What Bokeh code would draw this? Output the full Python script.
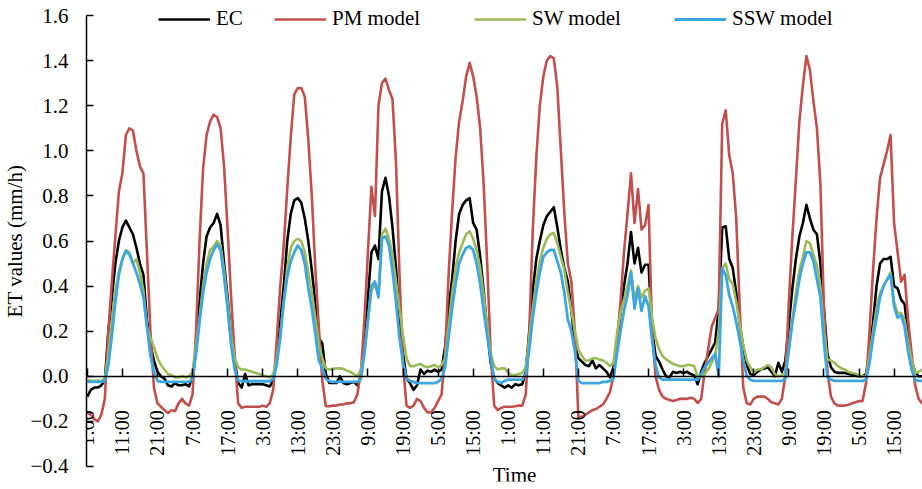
import math
from bokeh.plotting import figure
from bokeh.models import (Range1d, FixedTicker, CustomJSTickFormatter, Legend,
                          LegendItem, Label, LinearAxis)
from bokeh.core.properties import value
from bokeh.embed import file_html
from bokeh.resources import INLINE

# ---------------- data (hourly, 10 days x 24 h) ----------------
ec = [
    -0.09, -0.06, -0.05, -0.05, -0.04, -0.02, 0.2, 0.35, 0.5, 0.6, 0.66, 0.69, 0.66, 0.63, 0.57, 0.5, 0.45, 0.25, 0.14, 0.07, 0.02, 0.0, -0.01, -0.04,
    -0.045, -0.03, -0.04, -0.04, -0.035, -0.045, 0.0, 0.12, 0.33, 0.5, 0.62, 0.66, 0.68, 0.72, 0.67, 0.5, 0.35, 0.18, 0.07, -0.03, -0.05, 0.01, -0.04, -0.035,
    -0.035, -0.035, -0.035, -0.04, -0.045, -0.02, 0.08, 0.24, 0.4, 0.6, 0.72, 0.78, 0.79, 0.77, 0.7, 0.6, 0.47, 0.33, 0.17, 0.145, 0.01, -0.03, -0.03, -0.03,
    0.0, -0.03, -0.035, -0.03, -0.025, -0.04, 0.0, 0.15, 0.35, 0.55, 0.58, 0.52, 0.82, 0.88, 0.8, 0.66, 0.48, 0.27, 0.1, -0.01, -0.03, -0.06, -0.04, 0.03,
    0.01, 0.025, 0.02, 0.03, 0.02, 0.03, 0.13, 0.3, 0.43, 0.6, 0.72, 0.76, 0.78, 0.79, 0.68, 0.65, 0.53, 0.38, 0.2, 0.06, -0.01, -0.03, -0.04, -0.05,
    -0.04, -0.05, -0.035, -0.04, -0.035, 0.02, 0.2, 0.38, 0.52, 0.6, 0.67, 0.71, 0.73, 0.75, 0.66, 0.56, 0.48, 0.42, 0.29, 0.14, 0.08, 0.065, 0.05, 0.045,
    0.07, 0.035, 0.05, 0.035, 0.02, -0.005, 0.04, 0.15, 0.28, 0.4, 0.5, 0.64, 0.5, 0.57, 0.46, 0.495, 0.495, 0.21, 0.09, 0.065, 0.03, 0.0, -0.005, 0.02,
    0.015, 0.02, 0.015, 0.02, 0.01, 0.005, -0.035, 0.02, 0.06, 0.09, 0.12, 0.15, 0.3, 0.66, 0.665, 0.52, 0.48, 0.37, 0.23, 0.13, 0.05, 0.01, 0.005, 0.02,
    0.03, 0.035, 0.04, 0.02, 0.0, 0.06, 0.02, 0.07, 0.23, 0.39, 0.52, 0.62, 0.68, 0.76, 0.7, 0.65, 0.63, 0.5, 0.3, 0.1, 0.04, 0.02, 0.015, 0.015,
    0.015, 0.01, 0.007, 0.003, 0.0, 0.0, 0.01, 0.1, 0.24, 0.4, 0.5, 0.52, 0.52, 0.53, 0.4, 0.39, 0.34, 0.32, 0.18, 0.07, 0.02, 0.0, 0.0, 0.005,
]

pm = [
    -0.16, -0.17, -0.19, -0.2, -0.17, -0.1, 0.2, 0.42, 0.62, 0.82, 0.9, 1.07, 1.1, 1.09, 1.0, 0.93, 0.9, 0.55, 0.2, -0.05, -0.12, -0.135, -0.15, -0.163,
    -0.15, -0.155, -0.12, -0.1, -0.12, -0.13, -0.08, 0.2, 0.6, 0.92, 1.07, 1.13, 1.16, 1.15, 1.1, 0.93, 0.65, 0.35, 0.1, -0.12, -0.14, -0.135, -0.135, -0.135,
    -0.135, -0.135, -0.13, -0.135, -0.12, -0.06, 0.16, 0.4, 0.58, 0.83, 1.06, 1.25, 1.278, 1.278, 1.24, 1.05, 0.8, 0.48, 0.22, -0.02, -0.133, -0.133, -0.13, -0.13,
    -0.125, -0.125, -0.12, -0.12, -0.115, -0.08, 0.02, 0.25, 0.55, 0.84, 0.71, 1.2, 1.3, 1.32, 1.27, 1.23, 0.95, 0.45, 0.05, -0.13, -0.14, -0.13, -0.1, -0.11,
    -0.14, -0.16, -0.16, -0.14, -0.11, -0.08, 0.1, 0.45, 0.73, 0.97, 1.13, 1.22, 1.33, 1.39, 1.33, 1.24, 1.1, 0.85, 0.5, 0.1, -0.13, -0.15, -0.14, -0.135,
    -0.135, -0.135, -0.133, -0.13, -0.13, -0.08, 0.2, 0.65, 0.97, 1.2, 1.33, 1.4, 1.42, 1.41, 1.28, 1.0, 0.72, 0.5, 0.42, 0.2, -0.18, -0.18, -0.17, -0.16,
    -0.15, -0.145, -0.135, -0.125, -0.1, -0.07, 0.0, 0.15, 0.33, 0.55, 0.72, 0.9, 0.68, 0.83, 0.65, 0.67, 0.76, 0.2, 0.0, -0.06, -0.09, -0.1, -0.105, -0.11,
    -0.105, -0.1, -0.1, -0.1, -0.095, -0.1, -0.118, -0.1, 0.02, 0.12, 0.22, 0.26, 0.3, 1.12, 1.18, 0.98, 0.9, 0.7, 0.3, -0.05, -0.12, -0.125, -0.1, -0.09,
    -0.09, -0.09, -0.1, -0.115, -0.12, -0.125, -0.1, 0.0, 0.33, 0.62, 0.87, 1.13, 1.29, 1.42, 1.36, 1.22, 1.1, 0.85, 0.3, 0.02, -0.09, -0.12, -0.13, -0.13,
    -0.13, -0.126, -0.12, -0.115, -0.11, -0.11, -0.03, 0.2, 0.47, 0.7, 0.88, 0.94, 1.0, 1.07, 0.68, 0.55, 0.42, 0.45, 0.25, 0.1, -0.04, -0.1, -0.12, -0.12,
]

sw = [
    -0.015, -0.02, -0.02, -0.02, -0.02, -0.01, 0.1, 0.24, 0.38, 0.46, 0.52, 0.56, 0.55, 0.5, 0.52, 0.46, 0.38, 0.22, 0.17, 0.13, 0.08, 0.05, 0.03, 0.01,
    0.005, -0.005, -0.005, 0.0, -0.005, 0.0, 0.02, 0.14, 0.26, 0.4, 0.5, 0.56, 0.575, 0.6, 0.58, 0.47, 0.33, 0.18, 0.08, 0.04, 0.03, 0.03, 0.025, 0.02,
    0.015, 0.01, 0.005, 0.0, -0.005, 0.01, 0.08, 0.18, 0.33, 0.48, 0.57, 0.6, 0.61, 0.6, 0.55, 0.46, 0.37, 0.26, 0.14, 0.08, 0.035, 0.03, 0.033, 0.035,
    0.035, 0.033, 0.025, 0.02, 0.01, 0.0, 0.03, 0.1, 0.25, 0.38, 0.41, 0.36, 0.63, 0.655, 0.61, 0.54, 0.42, 0.3, 0.18, 0.08, 0.045, 0.045, 0.05, 0.055,
    0.045, 0.04, 0.045, 0.05, 0.04, 0.05, 0.08, 0.22, 0.37, 0.48, 0.55, 0.59, 0.63, 0.643, 0.61, 0.56, 0.48, 0.36, 0.22, 0.1, 0.045, 0.03, 0.035, 0.035,
    0.015, 0.005, 0.005, 0.01, 0.015, 0.04, 0.17, 0.3, 0.42, 0.51, 0.57, 0.61, 0.63, 0.635, 0.59, 0.53, 0.47, 0.37, 0.29, 0.2, 0.12, 0.09, 0.07, 0.07,
    0.08, 0.08, 0.075, 0.07, 0.06, 0.045, 0.06, 0.19, 0.28, 0.34, 0.4, 0.47, 0.34, 0.4, 0.35, 0.38, 0.39, 0.26, 0.17, 0.12, 0.09, 0.075, 0.065, 0.055,
    0.05, 0.045, 0.045, 0.05, 0.05, 0.045, 0.0, -0.005, 0.01, 0.03, 0.06, 0.09, 0.2, 0.48, 0.5, 0.43, 0.41, 0.33, 0.23, 0.14, 0.07, 0.04, 0.015, 0.03,
    0.03, 0.04, 0.05, 0.04, 0.01, 0.0, 0.005, 0.015, 0.12, 0.25, 0.37, 0.47, 0.53, 0.6, 0.59, 0.54, 0.49, 0.4, 0.2, 0.075, 0.07, 0.06, 0.045, 0.035,
    0.03, 0.02, 0.015, 0.012, 0.005, 0.0, 0.0, 0.09, 0.2, 0.3, 0.37, 0.4, 0.43, 0.46, 0.33, 0.28, 0.28, 0.25, 0.15, 0.07, 0.015, 0.02, 0.03, 0.035,
]

ssw = [
    -0.025, -0.025, -0.025, -0.025, -0.025, -0.02, 0.05, 0.18, 0.33, 0.45, 0.52, 0.555, 0.54, 0.5, 0.46, 0.41, 0.35, 0.22, 0.09, 0.02, -0.02, -0.025, -0.025, -0.025,
    -0.025, -0.025, -0.025, -0.025, -0.025, -0.025, -0.01, 0.1, 0.24, 0.37, 0.46, 0.52, 0.56, 0.585, 0.56, 0.44, 0.3, 0.14, 0.03, -0.018, -0.022, -0.022, -0.022, -0.022,
    -0.022, -0.022, -0.022, -0.022, -0.022, -0.01, 0.05, 0.17, 0.33, 0.44, 0.51, 0.55, 0.58, 0.56, 0.5, 0.39, 0.3, 0.19, 0.07, 0.035, -0.01, -0.022, -0.025, -0.025,
    -0.025, -0.025, -0.025, -0.025, -0.025, -0.025, -0.01, 0.1, 0.25, 0.4, 0.42, 0.35, 0.61, 0.62, 0.58, 0.47, 0.33, 0.17, 0.06, -0.01, -0.02, -0.025, -0.03, -0.03,
    -0.03, -0.03, -0.03, -0.03, -0.025, -0.01, 0.04, 0.17, 0.3, 0.41, 0.5, 0.54, 0.57, 0.576, 0.56, 0.5, 0.41, 0.29, 0.18, 0.08, -0.01, -0.025, -0.03, -0.02,
    -0.015, -0.015, -0.015, -0.015, -0.015, 0.01, 0.12, 0.26, 0.37, 0.46, 0.53, 0.55, 0.56, 0.56, 0.51, 0.46, 0.37, 0.25, 0.2, 0.11, -0.02, -0.03, -0.03, -0.03,
    -0.03, -0.03, -0.03, -0.025, -0.025, -0.02, -0.01, 0.1, 0.2, 0.29, 0.36, 0.46, 0.3, 0.39, 0.29, 0.355, 0.31, 0.16, 0.05, -0.005, -0.015, -0.015, -0.015, -0.015,
    -0.015, -0.015, -0.015, -0.015, -0.015, -0.015, -0.015, 0.01, 0.04, 0.06, 0.08, 0.1, 0.0, 0.48, 0.45, 0.36, 0.31, 0.24, 0.16, 0.07, 0.0, -0.015, -0.02, -0.02,
    -0.02, -0.02, -0.02, -0.02, -0.02, -0.02, -0.02, -0.01, 0.12, 0.24, 0.33, 0.43, 0.5, 0.55, 0.55, 0.51, 0.43, 0.35, 0.15, -0.005, -0.015, -0.02, -0.02, -0.02,
    -0.02, -0.02, -0.02, -0.02, -0.02, -0.02, -0.015, 0.06, 0.17, 0.26, 0.35, 0.4, 0.43, 0.45, 0.31, 0.26, 0.27, 0.22, 0.11, 0.03, -0.015, -0.02, -0.02, -0.02,
]

x_tick_labels = ["1:00", "11:00", "21:00", "7:00", "17:00", "3:00", "13:00", "23:00",
                 "9:00", "19:00", "5:00", "15:00", "1:00", "11:00", "21:00", "7:00",
                 "17:00", "3:00", "13:00", "23:00", "9:00", "19:00", "5:00", "15:00"]
y_ticks = [-0.4, -0.2, 0.0, 0.2, 0.4, 0.6, 0.8, 1.0, 1.2, 1.4, 1.6]

series = [("EC", ec, "#000000"), ("PM model", pm, "#C0504D"),
          ("SW model", sw, "#9BBB59"), ("SSW model", ssw, "#3EA6DE")]

FONT = "Liberation Serif"

# ---------------- figure ----------------
# The frame is a little taller than the -0.4 .. 1.6 value range so that the
# legend and the "Time" title can sit inside it; the y axis line is bounded.
p = figure(width=922, height=489, output_backend="svg", toolbar_location=None,
           x_range=Range1d(-0.23, 238.1), y_range=Range1d(-0.46652, 1.66652),
           min_border_left=85, min_border_right=0, min_border_top=0, min_border_bottom=8,
           x_axis_location=None, background_fill_color="white", border_fill_color="white")
p.outline_line_color = None
p.grid.visible = False

renderers = []
for name, vals, col in series:
    xs = list(range(len(vals)))
    r = p.line(xs, vals, line_color=col, line_width=2.6 if name != "SSW model" else 2.8,
               line_join="round")
    renderers.append((name, r))

# x axis crossing at y = 0
x_tick_pos = [10 * k for k in range(len(x_tick_labels))]
xaxis = LinearAxis(fixed_location=0, ticker=FixedTicker(ticks=x_tick_pos),
                   major_label_overrides={t: lab for t, lab in zip(x_tick_pos, x_tick_labels)},
                   major_label_orientation=math.pi / 2, major_label_standoff=34,
                   major_tick_in=8, major_tick_out=0,
                   minor_tick_line_color=None,
                   axis_line_color="black", axis_line_width=1.5,
                   major_tick_line_color="black", major_tick_line_width=1.5,
                   major_label_text_font=FONT, major_label_text_font_size="20px",
                   major_label_text_color="black")
p.add_layout(xaxis, "below")

ya = p.yaxis[0]
ya.bounds = (-0.4, 1.6)
ya.ticker = FixedTicker(ticks=y_ticks)
ya.formatter = CustomJSTickFormatter(code="return tick.toFixed(1).replace('-', '\u2212');")
ya.major_tick_in = 7
ya.major_tick_out = 0
ya.minor_tick_line_color = None
ya.major_label_standoff = 18
ya.axis_line_color = "black"
ya.axis_line_width = 1.5
ya.major_tick_line_color = "black"
ya.major_tick_line_width = 1.5
ya.major_label_text_font = FONT
ya.major_label_text_font_size = "21px"
ya.major_label_text_color = "black"
ya.axis_label = "ET values (mm/h)"
ya.axis_label_standoff = 0
ya.axis_label_text_font = FONT
ya.axis_label_text_font_size = "21px"
ya.axis_label_text_font_style = "normal"
ya.axis_label_text_color = "black"

# x axis title, inside the frame below the -0.4 level
p.add_layout(Label(x=428, y=7, x_units="screen", y_units="screen",
                   text="Time", text_align="center", text_baseline="middle",
                   text_font=FONT, text_font_size="21px", text_color="black"))

# legend entries placed individually along the top
legend_x = [72, 188, 388, 588]
for (name, r), lx in zip(renderers, legend_x):
    lg = Legend(items=[LegendItem(label=value(name), renderers=[r])],
                location=(lx, 450), orientation="horizontal",
                padding=0, margin=0, spacing=0,
                glyph_width=52, glyph_height=20, label_height=20, label_standoff=6,
                label_text_font=FONT, label_text_font_size="21px", label_text_color="black",
                border_line_color=None, background_fill_alpha=0)
    p.add_layout(lg)

open("out.html", "w").write(file_html(p, INLINE))
